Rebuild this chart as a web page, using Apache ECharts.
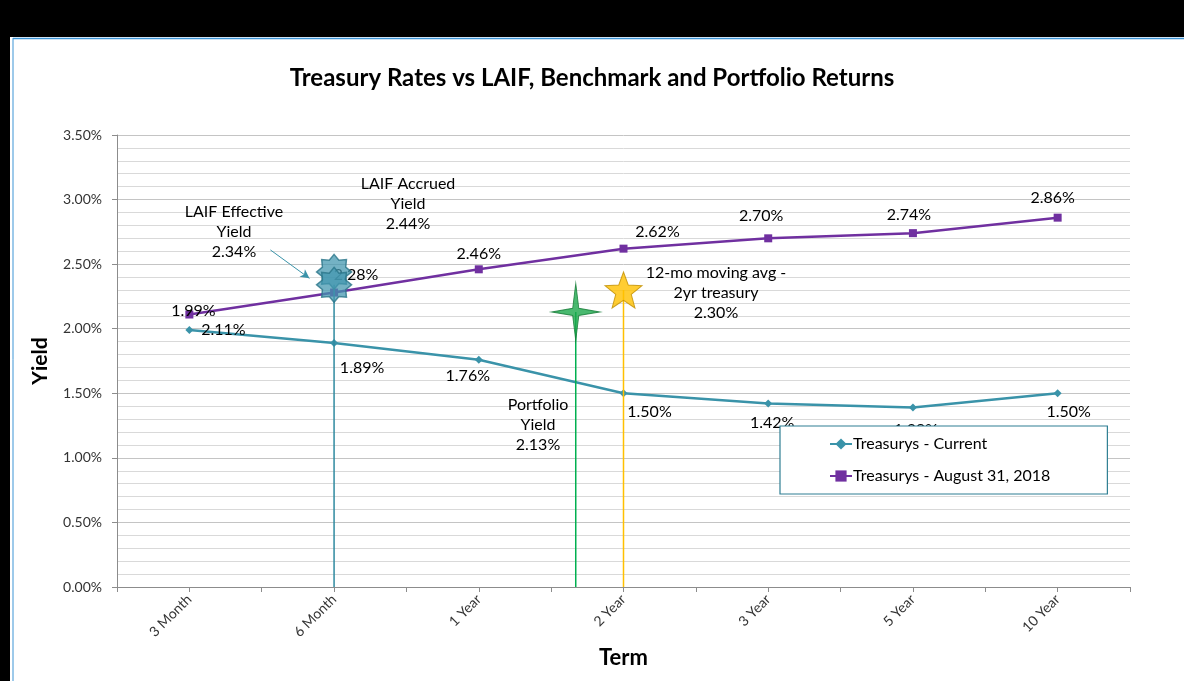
<!DOCTYPE html>
<html>
<head>
<meta charset="utf-8">
<script src="https://cdn.jsdelivr.net/npm/echarts@6/dist/echarts.min.js"></script>
<style>
  html, body { margin: 0; padding: 0; background: #fff; }
  #chart { width: 1184px; height: 681px; }
</style>
</head>
<body>
<div id="chart"></div>
<script>
// terms on the x axis, one slot each
var categories = ['3 Month', '6 Month', '1 Year', '2 Year', '3 Year', '5 Year', '10 Year'];
// treasury yields in %
var current = [1.99, 1.89, 1.76, 1.50, 1.42, 1.39, 1.50];
var aug2018 = [2.11, 2.28, 2.46, 2.62, 2.70, 2.74, 2.86];
// benchmark markers: value in %, term slot (0.5 = centre of first term)
var laifEffective = 2.34;
var laifAccrued = 2.44;
var portfolioYield = 2.13;
var movingAvg2yr = 2.30;
var laifTerm = 1.5;
var portfolioTerm = 3.17;
var movingAvgTerm = 3.5;
var yTicks = [0, 0.5, 1, 1.5, 2, 2.5, 3, 3.5];

// label nudges (px) so labels sit like in the excel original
var curOffsets = [[4, -19], [28, 25], [-11, 16], [26, 19], [4, 19], [3, 22], [11, 19]];
var augOffsets = [[34, 15], [22, -18], [0, -15], [34, -17], [-7, -22], [-4, -18], [-5, -20]];

function starPath(n, rIn) {
  var d = '';
  for (var i = 0; i < n * 2; i++) {
    var r = i % 2 === 0 ? 1 : rIn;
    var a = -Math.PI / 2 + i * Math.PI / n;
    d += (i === 0 ? 'M' : 'L') + (r * Math.cos(a) * 100).toFixed(2) + ',' + (r * Math.sin(a) * 100).toFixed(2);
  }
  return 'path://' + d + 'Z';
}

function pts(vals, offs) {
  return vals.map(function (v, i) {
    return { value: [i + 0.5, v], label: { offset: offs[i] } };
  });
}

function note(text, x, y) {
  return {
    type: 'text', z: 100,
    style: { text: text, x: x, y: y, align: 'center', textAlign: 'center', font: '16px ' + font, fill: '#000', lineHeight: 20 }
  };
}

var font = 'Lato, "Open Sans", sans-serif';
var teal = '#3a93a9';
var purple = '#7030a0';

var chart = echarts.init(document.getElementById('chart'));
chart.setOption({
  animation: false,
  textStyle: { fontFamily: font },
  title: {
    text: 'Treasury Rates vs LAIF, Benchmark and Portfolio Returns',
    left: 'center',
    top: 61,
    textStyle: { fontFamily: font, fontSize: 24, fontWeight: 'bold', color: '#000' }
  },
  graphic: [
    { type: 'rect', shape: { x: 0, y: 0, width: 1184, height: 37 }, style: { fill: '#000' } },
    { type: 'rect', shape: { x: 0, y: 0, width: 10, height: 681 }, style: { fill: '#000' } },
    { type: 'line', shape: { x1: 13, y1: 38.5, x2: 1184, y2: 38.5 }, style: { stroke: '#3d95d6', lineWidth: 1.5 } },
    { type: 'line', shape: { x1: 13, y1: 38, x2: 13, y2: 681 }, style: { stroke: '#3d95d6', lineWidth: 1 } },
    note('LAIF Effective\nYield\n' + laifEffective.toFixed(2) + '%', 234, 202),
    note('LAIF Accrued\nYield\n' + laifAccrued.toFixed(2) + '%', 408, 174),
    note('12-mo moving avg -\n2yr treasury\n' + movingAvg2yr.toFixed(2) + '%', 716, 263),
    note('Portfolio\nYield\n' + portfolioYield.toFixed(2) + '%', 538, 395)
  ],
  grid: { left: 117, right: 54, top: 135, bottom: 94 },
  legend: {
    orient: 'vertical',
    left: 780,
    top: 426,
    padding: [10, 57, 10, 49],
    itemGap: 16,
    itemWidth: 22,
    itemHeight: 14,
    backgroundColor: '#fff',
    borderColor: '#2f7f93',
    borderWidth: 1.2,
    z: 10,
    data: ['Treasurys - Current', 'Treasurys - August 31, 2018'],
    textStyle: { fontFamily: font, fontSize: 16, color: '#000', padding: [0, 0, 0, -4] }
  },
  xAxis: {
    type: 'value',
    min: 0,
    max: categories.length,
    interval: 0.5,
    name: 'Term',
    nameLocation: 'middle',
    nameGap: 60,
    nameTextStyle: { fontFamily: font, fontSize: 22, fontWeight: 'bold', color: '#000' },
    axisLine: { lineStyle: { color: '#8c8c8c' } },
    axisTick: { show: true, length: 5, lineStyle: { color: '#8c8c8c' } },
    splitLine: { show: false },
    axisLabel: {
      rotate: 45,
      margin: 10,
      fontSize: 14,
      color: '#333',
      formatter: function (v) {
        var i = v - 0.5;
        return (Math.abs(i - Math.round(i)) < 1e-6 && categories[Math.round(i)]) ? categories[Math.round(i)] : '';
      }
    }
  },
  yAxis: {
    type: 'value',
    min: yTicks[0],
    max: yTicks[yTicks.length - 1],
    interval: 0.5,
    name: 'Yield',
    nameLocation: 'middle',
    nameGap: 66,
    nameTextStyle: { fontFamily: font, fontSize: 21, fontWeight: 'bold', color: '#000' },
    axisLine: { show: true, lineStyle: { color: '#8c8c8c' } },
    axisTick: { show: true, length: 5, lineStyle: { color: '#8c8c8c' } },
    axisLabel: {
      margin: 15,
      fontSize: 14,
      color: '#333',
      formatter: function (v) { return v.toFixed(2) + '%'; }
    },
    splitLine: { lineStyle: { color: '#c4c4c4' } },
    minorTick: { show: false, splitNumber: 5 },
    minorSplitLine: { show: true, lineStyle: { color: '#d9d9d9' } }
  },
  series: [
    {
      name: 'Treasurys - Current',
      type: 'line',
      z: 3,
      data: pts(current, curOffsets),
      symbol: 'diamond',
      symbolSize: 8,
      color: teal,
      lineStyle: { width: 2.5, color: teal },
      itemStyle: { color: teal },
      label: {
        show: true,
        position: 'inside',
        fontSize: 16,
        fontFamily: font,
        color: '#000',
        formatter: function (p) { return p.value[1].toFixed(2) + '%'; }
      }
    },
    {
      name: 'Treasurys - August 31, 2018',
      type: 'line',
      z: 3,
      data: pts(aug2018, augOffsets),
      symbol: 'rect',
      symbolSize: 8,
      color: purple,
      lineStyle: { width: 2.5, color: purple },
      itemStyle: { color: purple },
      label: {
        show: true,
        position: 'inside',
        fontSize: 16,
        fontFamily: font,
        color: '#000',
        formatter: function (p) { return p.value[1].toFixed(2) + '%'; }
      },
      markLine: {
        silent: true,
        symbol: ['none', 'arrow'],
        symbolSize: [7, 9],
        label: { show: false },
        lineStyle: { color: '#3a93a9', width: 1, type: 'solid' },
        data: [[{ coord: [1.06, 2.61] }, { coord: [1.33, 2.39] }]]
      }
    },
    {
      name: 'LAIF drop',
      type: 'line',
      z: 4,
      symbol: 'none',
      lineStyle: { color: '#2f8aa0', width: 1.5 },
      data: [[laifTerm, laifEffective], [laifTerm, 0]]
    },
    {
      name: 'Portfolio drop',
      type: 'line',
      z: 4,
      symbol: 'none',
      lineStyle: { color: '#00b050', width: 1.5 },
      data: [[portfolioTerm, portfolioYield], [portfolioTerm, 0]]
    },
    {
      name: 'Moving avg drop',
      type: 'line',
      z: 4,
      symbol: 'none',
      lineStyle: { color: '#ffc000', width: 1.5 },
      data: [[movingAvgTerm, movingAvg2yr], [movingAvgTerm, 0]]
    },
    {
      name: 'LAIF',
      type: 'scatter',
      z: 6,
      symbol: starPath(8, 0.72),
      symbolSize: 35,
      itemStyle: { color: 'rgba(66,150,175,0.92)', borderColor: '#2a7689', borderWidth: 1.5 },
      data: [[laifTerm, laifAccrued], [laifTerm, laifEffective]]
    },
    {
      name: 'Portfolio',
      type: 'scatter',
      z: 6,
      symbol: starPath(4, 0.18),
      symbolSize: [48, 57],
      itemStyle: { color: '#1ca84b', borderColor: '#137a34', borderWidth: 1 },
      data: [[portfolioTerm, portfolioYield]]
    },
    {
      name: 'Moving avg',
      type: 'scatter',
      z: 6,
      symbol: starPath(5, 0.42),
      symbolSize: [37, 36],
      itemStyle: { color: '#ffc000', borderColor: '#c08e00', borderWidth: 1 },
      data: [[movingAvgTerm, movingAvg2yr]]
    }
  ]
});
</script>
</body>
</html>
